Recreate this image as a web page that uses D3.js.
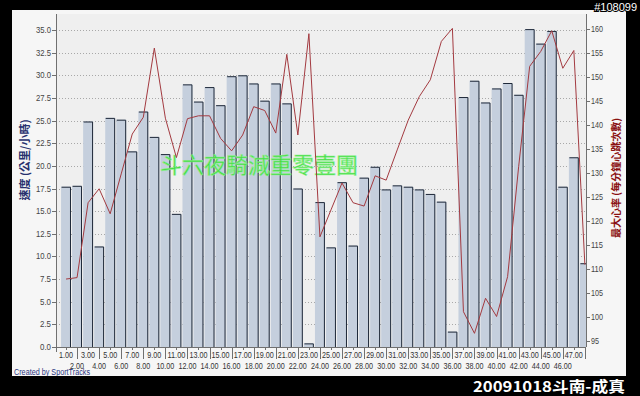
<!DOCTYPE html>
<html><head><meta charset="utf-8">
<script src="https://cdn.jsdelivr.net/npm/d3@7/dist/d3.min.js"></script>
<style>body{margin:0;background:#000}svg{display:block}</style>
</head><body>
<svg id="c" width="640" height="396"></svg>
<script>
const labels = d3.range(1, 49).map(i => i.toFixed(2));
const speeds = [17.7, 17.8, 24.9, 11.1, 25.3, 25.1, 21.6, 26.0, 23.2, 21.3, 14.7, 29.0, 27.1, 28.7, 26.7, 29.9, 30.0, 29.1, 27.2, 29.1, 26.9, 17.5, 0.4, 16.0, 11.0, 18.2, 11.2, 18.7, 19.9, 17.4, 17.85, 17.7, 17.4, 16.9, 16.05, 1.7, 27.6, 29.4, 27.0, 28.55, 29.15, 27.85, 35.1, 33.5, 34.9, 17.7, 20.95, 9.25];
const heartRate = [108.0, 108.3, 123.9, 126.8, 121.6, 129.9, 138.2, 141.7, 156.1, 141.5, 133.3, 141.4, 142.0, 142.0, 137.3, 134.7, 138.0, 143.9, 143.1, 138.4, 154.8, 138.0, 159.1, 116.8, 122.4, 128.0, 123.9, 123.2, 129.5, 128.6, 134.9, 141.1, 146.0, 149.5, 157.5, 160.2, 101.2, 96.7, 104.0, 100.2, 108.5, 131.4, 152.3, 155.4, 159.7, 151.9, 155.6, 111.0];
const leftTicks = d3.range(0, 35.01, 2.5);
const rightTicks = d3.range(95, 160.1, 5);
const leftTitle = "速度 (公里/小時)";
const rightTitle = "最大心率 (每分鐘心跳次數)";
const watermark = "斗六夜騎減重零壹團";
const footer = "20091018斗南-成真";
const idTag = "#108099";
const credit = "Created by SportTracks";

const svg = d3.select("#c");
const L = 56, R = 586, T = 14, B = 347;

svg.append("rect").attr("x",0).attr("y",0).attr("width",640).attr("height",396).attr("fill","#000");
svg.append("rect").attr("x",12).attr("y",10).attr("width",614).attr("height",366).attr("fill","#f6f6f6");
svg.append("rect").attr("x",L).attr("y",T).attr("width",R-L).attr("height",B-T).attr("fill","#efefef");

const x = d3.scaleBand().domain(labels).range([60.5, 590.4]).paddingInner(0.1).paddingOuter(0.05);
const yL = d3.scaleLinear().domain([0, 36.77]).range([B, T]);
const yR = d3.scaleLinear().domain([93.85, 163.2]).range([B, T]);

svg.append("g").selectAll("line").data(leftTicks.filter(d=>d>0)).join("line")
  .attr("x1",L).attr("x2",R).attr("y1",d=>Math.round(yL(d))+0.5).attr("y2",d=>Math.round(yL(d))+0.5)
  .attr("stroke","#a8a8a8").attr("stroke-dasharray","1,2");

svg.append("clipPath").attr("id","pc").append("rect").attr("x",L).attr("y",T).attr("width",R-L).attr("height",B-T);

const bars = svg.append("g").attr("clip-path","url(#pc)");
bars.selectAll("rect").data(speeds).join("rect")
  .attr("x",(d,i)=>x(labels[i])).attr("width",x.bandwidth())
  .attr("y",d=>yL(d)).attr("height",d=>B-yL(d))
  .attr("fill","#c5cfdd");
bars.selectAll("path").data(speeds).join("path")
  .attr("d",(d,i)=>{const x0=x(labels[i])+0.5, x1=x(labels[i])+x.bandwidth()-0.5, y0=yL(d)+0.5; return `M${x0},${y0}H${x1}V${B}`;})
  .attr("fill","none").attr("stroke","#1e2838").attr("stroke-width",1);

svg.append("text").attr("x",160).attr("y",173).text(watermark)
  .attr("font-family","'Noto Sans CJK TC'").attr("font-size",22).attr("fill","#3ddc3d")
  .attr("stroke","#8ef08e").attr("stroke-width",0.6).attr("opacity",0.95);

const line = d3.line().x((d,i)=>x(labels[i])+x.bandwidth()/2).y(d=>yR(d));
svg.append("path").datum(heartRate).attr("d",line).attr("fill","none")
  .attr("stroke","#a33a40").attr("stroke-width",1).attr("clip-path","url(#pc)");

const ax = svg.append("g").attr("stroke","#707070").attr("shape-rendering","crispEdges");
ax.append("line").attr("x1",L+0.5).attr("x2",L+0.5).attr("y1",T).attr("y2",B+5);
ax.append("line").attr("x1",R+0.5).attr("x2",R+0.5).attr("y1",T).attr("y2",B);
ax.append("line").attr("x1",L).attr("x2",R).attr("y1",B+0.5).attr("y2",B+0.5);

const font = "'Liberation Sans', Arial, sans-serif";
const lt = svg.append("g");
lt.selectAll("line").data(leftTicks).join("line")
  .attr("x1",L-4).attr("x2",L).attr("y1",d=>Math.round(yL(d))+0.5).attr("y2",d=>Math.round(yL(d))+0.5).attr("stroke","#707070");
lt.selectAll("text").data(leftTicks).join("text")
  .attr("x",L-5).attr("y",d=>yL(d)+3).attr("text-anchor","end").text(d=>d.toFixed(1))
  .attr("font-family",font).attr("font-size",9).attr("fill","#444").attr("textLength",d=>d>=10?15:11).attr("lengthAdjust","spacingAndGlyphs");
const rt = svg.append("g");
rt.selectAll("line").data(rightTicks).join("line")
  .attr("x1",R).attr("x2",R+4).attr("y1",d=>Math.round(yR(d))+0.5).attr("y2",d=>Math.round(yR(d))+0.5).attr("stroke","#707070");
rt.selectAll("text").data(rightTicks).join("text")
  .attr("x",R+5).attr("y",d=>yR(d)+3).text(d=>d)
  .attr("font-family",font).attr("font-size",9).attr("fill","#444").attr("textLength",d=>d>=100?12:8).attr("lengthAdjust","spacingAndGlyphs");
const bt = svg.append("g");
bt.selectAll("line").data(labels).join("line")
  .attr("x1",d=>Math.round(x(d)+x.bandwidth()/2)+0.5).attr("x2",d=>Math.round(x(d)+x.bandwidth()/2)+0.5)
  .attr("y1",B).attr("y2",(d,i)=>i%2?B+12:B+3).attr("stroke","#707070");
bt.selectAll("text").data(labels.slice(0,47)).join("text")
  .attr("x",d=>x(d)+x.bandwidth()/2).attr("y",(d,i)=>i%2?369:358).attr("text-anchor","middle").text(d=>d)
  .attr("font-family",font).attr("font-size",9).attr("fill","#333")
  .attr("textLength",d=>d.length>4?18:14).attr("lengthAdjust","spacingAndGlyphs");

svg.append("text").attr("transform","translate(29,160) rotate(-90)").attr("text-anchor","middle").text(leftTitle)
  .attr("font-family","'Noto Sans CJK TC'").attr("font-size",11).attr("font-weight","bold").attr("fill","#27306e");
svg.append("text").attr("transform","translate(620,178) rotate(-90)").attr("text-anchor","middle").text(rightTitle)
  .attr("font-family","'Noto Sans CJK TC'").attr("font-size",10).attr("font-weight","bold").attr("fill","#8a1010");

svg.append("text").attr("x",14).attr("y",375).text(credit)
  .attr("font-family",font).attr("font-size",8.5).attr("fill","#2a3580")
  .attr("textLength",76).attr("lengthAdjust","spacingAndGlyphs");

svg.append("rect").attr("x",0).attr("y",376).attr("width",640).attr("height",20).attr("fill","#000");
svg.append("text").attr("x",625).attr("y",392).attr("text-anchor","end").text(footer)
  .attr("font-family","'Noto Sans CJK TC'").attr("font-size",15).attr("font-weight","bold").attr("fill","#fff")
  .attr("textLength",152).attr("lengthAdjust","spacingAndGlyphs");
svg.append("text").attr("x",637).attr("y",11).attr("text-anchor","end").text(idTag)
  .attr("font-family",font).attr("font-size",11).attr("fill","#fff")
  .attr("stroke","#000").attr("stroke-width",2).attr("paint-order","stroke");
</script>
</body></html>
